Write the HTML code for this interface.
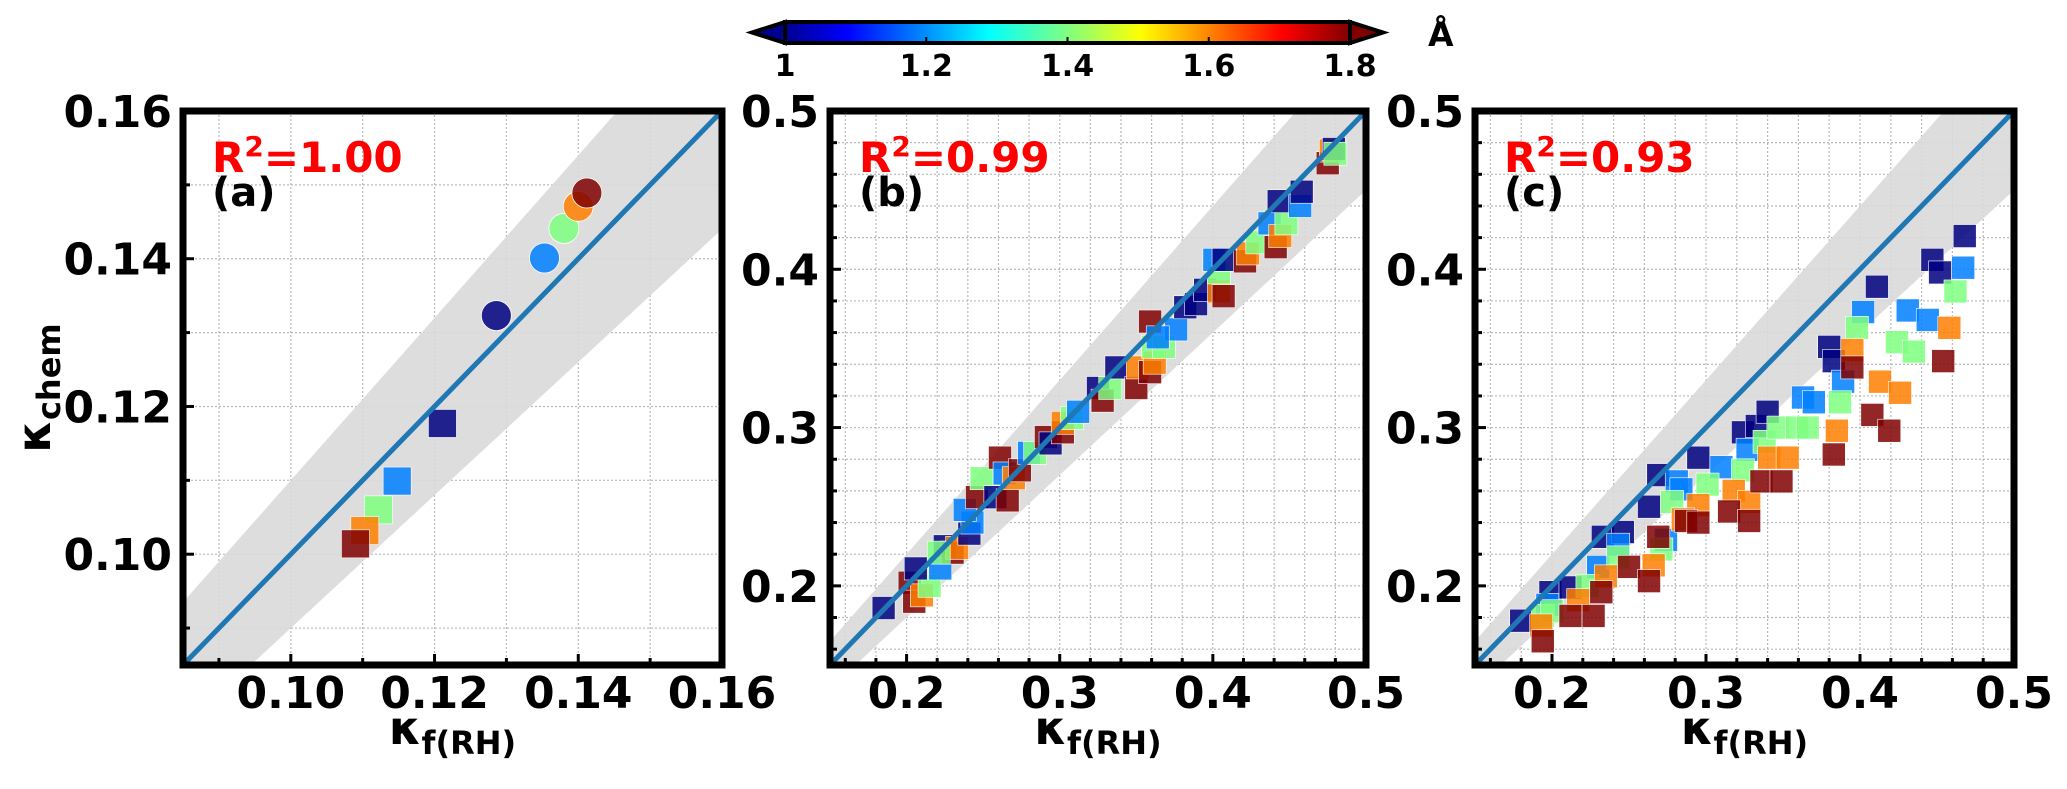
<!DOCTYPE html>
<html><head><meta charset="utf-8">
<style>
html,body{margin:0;padding:0;background:#fff;}
svg{display:block;font-family:"DejaVu Sans","Liberation Sans",sans-serif;font-weight:bold;}
</style></head>
<body>
<svg id="fig" width="2067" height="789" viewBox="0 0 2067 789" xmlns="http://www.w3.org/2000/svg">
<defs>
<linearGradient id="jetgrad" x1="0" x2="1" y1="0" y2="0">
<stop offset="0" stop-color="#00008f"/><stop offset="0.11" stop-color="#0000ff"/>
<stop offset="0.36" stop-color="#00ffff"/><stop offset="0.5" stop-color="#80ff80"/>
<stop offset="0.63" stop-color="#ffff00"/><stop offset="0.88" stop-color="#ff0000"/>
<stop offset="1" stop-color="#800000"/></linearGradient>
</defs>
</svg>
<script>
// ---- Data ----
const panelAX = [0.1286,0.1353,0.1380,0.1400,0.1412, 0.1211,0.1148,0.1122,0.1103,0.1090];
const panelAY = [0.1323,0.1401,0.1441,0.1471,0.1489, 0.1177,0.1099,0.1060,0.1032,0.1014];
const panelAV = [1.0,1.2,1.4,1.6,1.8, 1.0,1.2,1.4,1.6,1.8];
const panelAShape = ['c','c','c','c','c','s','s','s','s','s'];

const panelBX = [0.185,0.202,0.205,0.210,0.215,0.206,0.222,0.225,0.230,0.233,0.221,0.241,0.243,0.238,0.246,0.249,0.258,0.266,0.261,0.264,0.270,0.274,0.280,0.284,0.291,0.294,0.302,0.302,0.308,0.312,0.325,0.328,0.333,0.337,0.350,0.351,0.359,0.362,0.361,0.368,0.376,0.359,0.364,0.382,0.389,0.395,0.404,0.407,0.404,0.401,0.407,0.421,0.423,0.429,0.437,0.441,0.444,0.448,0.443,0.457,0.458,0.475,0.477,0.479,0.480];
const panelBY = [0.186,0.202,0.190,0.194,0.200,0.211,0.211,0.225,0.221,0.224,0.221,0.233,0.240,0.248,0.256,0.268,0.256,0.254,0.281,0.271,0.268,0.273,0.284,0.284,0.294,0.290,0.297,0.303,0.306,0.310,0.325,0.317,0.325,0.338,0.325,0.338,0.335,0.341,0.351,0.351,0.362,0.367,0.357,0.376,0.378,0.387,0.386,0.383,0.398,0.406,0.406,0.405,0.410,0.417,0.429,0.414,0.421,0.429,0.443,0.440,0.449,0.467,0.475,0.476,0.473];
const panelBV = [1.0,1.8,1.8,1.6,1.4,1.0,1.2,1.0,1.8,1.6,1.4,1.0,1.2,1.2,1.8,1.4,1.0,1.8,1.8,1.2,1.6,1.8,1.2,1.4,1.8,1.0,1.8,1.6,1.4,1.2,1.0,1.8,1.4,1.0,1.8,1.6,1.8,1.6,1.4,1.4,1.2,1.8,1.2,1.0,1.0,1.0,1.6,1.8,1.4,1.2,1.0,1.8,1.6,1.4,1.2,1.8,1.6,1.4,1.0,1.2,1.0,1.8,1.6,1.0,1.4];

const panelCNavyX = [0.180,0.199,0.212,0.233,0.246,0.263,0.269,0.295,0.324,0.333,0.340,0.380,0.383,0.411,0.447,0.452,0.468];
const panelCNavyY = [0.178,0.196,0.199,0.231,0.234,0.250,0.270,0.281,0.297,0.301,0.310,0.351,0.342,0.389,0.406,0.398,0.421];
const panelCBlueX = [0.197,0.230,0.243,0.274,0.281,0.284,0.310,0.327,0.363,0.370,0.389,0.402,0.431,0.444,0.467];
const panelCBlueY = [0.188,0.212,0.226,0.229,0.266,0.261,0.275,0.286,0.319,0.316,0.329,0.373,0.374,0.368,0.401];
const panelCGreenX = [0.194,0.200,0.223,0.243,0.271,0.278,0.301,0.324,0.338,0.347,0.359,0.366,0.387,0.398,0.424,0.435,0.462];
const panelCGreenY = [0.181,0.184,0.200,0.218,0.223,0.253,0.264,0.273,0.291,0.300,0.300,0.300,0.316,0.363,0.354,0.348,0.386];
const panelCOrangeX = [0.193,0.217,0.235,0.266,0.295,0.285,0.318,0.328,0.341,0.353,0.385,0.395,0.413,0.426,0.458];
const panelCOrangeY = [0.175,0.191,0.206,0.213,0.251,0.242,0.260,0.253,0.281,0.281,0.298,0.349,0.329,0.322,0.363];
const panelCRedX = [0.194,0.212,0.227,0.232,0.250,0.263,0.269,0.287,0.295,0.315,0.328,0.336,0.349,0.383,0.408,0.419,0.395,0.454];
const panelCRedY = [0.165,0.181,0.181,0.196,0.212,0.203,0.231,0.241,0.240,0.247,0.241,0.266,0.266,0.283,0.308,0.298,0.338,0.342];
const panelCGroupValues = [1.0,1.2,1.4,1.6,1.8];

const r2Labels = ['1.00','0.99','0.93'];
const panelLetters = ['(a)','(b)','(c)'];
const ticksA = [0.10,0.12,0.14,0.16];
const ticksBC = [0.2,0.3,0.4,0.5];
const cbTicks = [1,1.2,1.4,1.6,1.8];

// ---- Helpers ----
const NS='http://www.w3.org/2000/svg';
const svg=document.getElementById('fig');
function mk(tag,attrs,parent){const e=document.createElementNS(NS,tag);for(const k in attrs)e.setAttribute(k,attrs[k]);(parent||svg).appendChild(e);return e;}
function jet(v){let t=(v-1)/0.8;t=Math.max(0,Math.min(1,t));
 const r=Math.max(0,Math.min(1,1.5-Math.abs(4*t-3))),g=Math.max(0,Math.min(1,1.5-Math.abs(4*t-2))),b=Math.max(0,Math.min(1,1.5-Math.abs(4*t-1)));
 return 'rgb('+Math.round(r*255)+','+Math.round(g*255)+','+Math.round(b*255)+')';}

const T=111,B=665;
const panels=[
 {L:183,R:722,min:0.085,max:0.16,major:ticksA,minorStep:0.01,fmt:v=>v.toFixed(2),size:28,id:'a'},
 {L:830,R:1366,min:0.15,max:0.5,major:ticksBC,minorStep:0.02,fmt:v=>v.toFixed(1),size:23,id:'b'},
 {L:1475,R:2014,min:0.15,max:0.5,major:ticksBC,minorStep:0.02,fmt:v=>v.toFixed(1),size:23,id:'c'}
];

panels.forEach((p,pi)=>{
 const sx=v=>p.L+(v-p.min)/(p.max-p.min)*(p.R-p.L);
 const sy=v=>B-(v-p.min)/(p.max-p.min)*(B-T);
 const g=mk('g',{});
 
 
 const cp=mk('clipPath',{id:'clip'+pi},svg.querySelector('defs'));
 mk('rect',{x:p.L,y:T,width:p.R-p.L,height:B-T},cp);
 const grid=mk('g',{stroke:'#b8b8b8','stroke-width':1.2,'stroke-dasharray':'2,2'},g);
 
 
 const start=Math.ceil(p.min/p.minorStep-1e-6)*p.minorStep;
 const mins=[];for(let v=start;v<=p.max+1e-9;v+=p.minorStep)mins.push(+v.toFixed(4));
 mins.forEach(v=>{mk('line',{x1:sx(v),x2:sx(v),y1:T,y2:B},grid);mk('line',{x1:p.L,x2:p.R,y1:sy(v),y2:sy(v)},grid);});
 const band=mk('polygon',{points:[[p.min,p.min*1.1],[p.max,p.max*1.1],[p.max,p.max*0.9],[p.min,p.min*0.9]].map(q=>sx(q[0])+','+sy(q[1])).join(' '),fill:'#d9d9d9','fill-opacity':0.9,'clip-path':'url(#clip'+pi+')'},g);
 
 
 const pts=mk('g',{'clip-path':'url(#clip'+pi+')'},g);
 
 
 let X=[],Y=[],V=[],S=[];
 if(pi===0){X=panelAX;Y=panelAY;V=panelAV;S=panelAShape;}
 else if(pi===1){X=panelBX;Y=panelBY;V=panelBV;S=panelBX.map(()=>'s');}
 else{const gx=[panelCNavyX,panelCBlueX,panelCGreenX,panelCOrangeX,panelCRedX],gy=[panelCNavyY,panelCBlueY,panelCGreenY,panelCOrangeY,panelCRedY];
  gx.forEach((arr,k)=>arr.forEach((x,i)=>{X.push(x);Y.push(gy[k][i]);V.push(panelCGroupValues[k]);S.push('s');}));}
 X.forEach((x,i)=>{
  const c=jet(V[i]),cx=sx(x),cy=sy(Y[i]),h=p.size/2;
  let m;
  if(S[i]==='c') m=mk('circle',{cx:cx,cy:cy,r:h+1,fill:c,'fill-opacity':0.85,stroke:'#fff','stroke-width':0.8},pts);
  else m=mk('rect',{x:cx-h,y:cy-h,width:p.size,height:p.size,fill:c,'fill-opacity':0.85,stroke:'#fff','stroke-width':0.6},pts);
  
  
 });
 const ln=mk('line',{x1:sx(p.min),y1:sy(p.min),x2:sx(p.max),y2:sy(p.max),stroke:'#1f77b4','stroke-width':5,'clip-path':'url(#clip'+pi+')'},g);
 
 
 const tk=mk('g',{stroke:'#000','stroke-width':3},g);
 
 
 mins.forEach(v=>{
  const isMaj=p.major.some(m=>Math.abs(m-v)<1e-6), len=isMaj?11:7;
  mk('line',{x1:sx(v),x2:sx(v),y1:B,y2:B-len},tk);
  mk('line',{x1:p.L,x2:p.L+len,y1:sy(v),y2:sy(v)},tk);
 });
 p.major.forEach(v=>{
  const tx=mk('text',{x:sx(v),y:708,'text-anchor':'middle','font-size':44,fill:'#000'},g);tx.textContent=p.fmt(v);
  
  
  const ty=mk('text',{x:p.L-11,y:sy(v)+16,'text-anchor':'end','font-size':44,fill:'#000'},g);ty.textContent=p.fmt(v);
  
  
 });
 const fr=mk('rect',{x:p.L,y:T,width:p.R-p.L,height:B-T,fill:'none',stroke:'#000','stroke-width':7},g);
 
 
 const r2=mk('text',{x:p.L+29,y:172,'font-size':42,fill:'#ff0000'},g);
 r2.innerHTML='R<tspan dy="-16" font-size="28">2</tspan><tspan dy="16">='+r2Labels[pi]+'</tspan>';
 
 
 const lt=mk('text',{x:p.L+29,y:206,'font-size':40,fill:'#000'},g);lt.textContent=panelLetters[pi];
 
 
 const xl=mk('text',{x:(p.L+p.R)/2,y:744,'text-anchor':'middle','font-size':46,fill:'#000'},g);
 xl.innerHTML='κ<tspan dy="10" font-size="32">f(RH)</tspan>';
 
 
});

const yt=mk('text',{x:0,y:0,'text-anchor':'middle','font-size':46,fill:'#000',transform:'translate(50,388) rotate(-90)'});
yt.innerHTML='κ<tspan dy="10" font-size="32">chem</tspan>';



const cb=mk('g',{});


const cbL=785,cbR=1350,cbT=22,cbB=43;
const cs=v=>cbL+(v-1)/0.8*(cbR-cbL);
mk('polygon',{points:`${cbL},${cbT} ${cbL-33},${(cbT+cbB)/2} ${cbL},${cbB}`,fill:'#00008f',stroke:'#000','stroke-width':4},cb);
mk('polygon',{points:`${cbR},${cbT} ${cbR+33},${(cbT+cbB)/2} ${cbR},${cbB}`,fill:'#800000',stroke:'#000','stroke-width':4},cb);
mk('rect',{x:cbL,y:cbT,width:cbR-cbL,height:cbB-cbT,fill:'url(#jetgrad)',stroke:'#000','stroke-width':4},cb);
cbTicks.forEach(v=>{
 mk('line',{x1:cs(v),x2:cs(v),y1:cbB,y2:cbB-6,stroke:'#000','stroke-width':2},cb);
 const t=mk('text',{x:cs(v),y:76,'text-anchor':'middle','font-size':30,fill:'#000'},cb);t.textContent=String(v);
 
 
});
const ang=mk('text',{x:1428,y:46,'font-size':33,fill:'#000'},cb);ang.textContent='Å';


</script>
</body></html>
